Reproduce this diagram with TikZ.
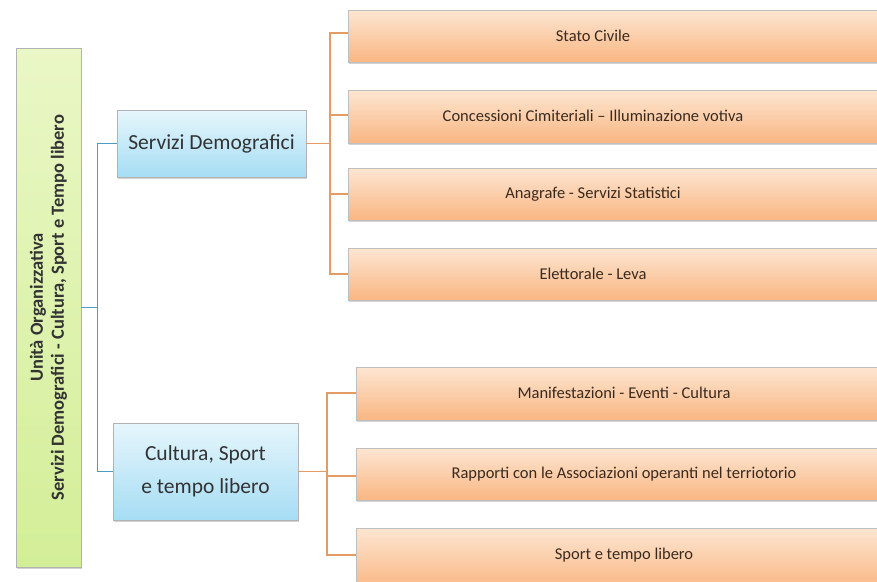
\documentclass[tikz,border=0pt]{standalone}
\usepackage{fontspec}
\setmainfont{Carlito}
\usetikzlibrary{shadows}
\definecolor{orTop}{HTML}{FDE6D2}
\definecolor{orBot}{HTML}{F9B682}
\definecolor{orLine}{HTML}{E39C66}
\definecolor{blTop}{HTML}{E6F6FC}
\definecolor{blBot}{HTML}{A6DDF4}
\definecolor{blLine}{HTML}{4C9CC4}
\definecolor{grTop}{HTML}{EAF7C6}
\definecolor{grBot}{HTML}{D3EE98}
\definecolor{txt}{HTML}{3A2A1E}
\tikzset{
  leafbox/.style={draw=black!25, line width=0.6pt, top color=orTop, bottom color=orBot,
    drop shadow={shadow xshift=1pt, shadow yshift=-1.5pt, opacity=0.35}},
  midbox/.style={draw=black!30, line width=0.6pt, top color=blTop, bottom color=blBot,
    drop shadow={shadow xshift=1pt, shadow yshift=-1.5pt, opacity=0.35}},
  rootbox/.style={draw=black!30, line width=0.8pt, top color=grTop, bottom color=grBot,
    drop shadow={shadow xshift=1pt, shadow yshift=-1.5pt, opacity=0.35}},
  leaftext/.style={font=\fontsize{16.5}{19}\selectfont, text=txt},
  midtext/.style={font=\fontsize{21.5}{25}\selectfont, text=black!80},
  orconn/.style={draw=orLine, line width=1.3pt},
  blconn/.style={draw=blLine, line width=1.3pt}
}
\begin{document}
\begin{tikzpicture}[x=1pt,y=-1pt]
\useasboundingbox (0,0) rectangle (877,581);
\fill[white] (0,0) rectangle (877,581);
\begin{scope}
\clip (0,0) rectangle (877,581);
% orange boxes group 1
\draw[leafbox] (348,10) rectangle (900,62);
\node[leaftext] (l1) at (593,36) {Stato Civile};
\draw[leafbox] (348,90) rectangle (900,143);
\node[leaftext] (l2) at (593,116) {Concessioni Cimiteriali –  Illuminazione votiva};
\draw[leafbox] (348,168) rectangle (900,220);
\node[leaftext] (l3) at (593,194) {Anagrafe - Servizi Statistici};
\draw[leafbox] (348,248) rectangle (900,300);
\node[leaftext] (l4) at (593,274) {Elettorale - Leva};
% orange boxes group 2
\draw[leafbox] (356,367) rectangle (900,420);
\node[leaftext] (m1) at (624,393) {Manifestazioni - Eventi - Cultura};
\draw[leafbox] (356,448) rectangle (900,500);
\node[leaftext] (m2) at (624,474) {Rapporti con le Associazioni operanti nel terriotorio};
\draw[leafbox] (356,528) rectangle (900,590);
\node[leaftext] (m3) at (624,555) {Sport e tempo libero};
\end{scope}
% coordinates for connectors
\coordinate (c1) at (348,33);
\coordinate (c2) at (348,115);
\coordinate (c3) at (348,194);
\coordinate (c4) at (348,274);
\coordinate (d1) at (356,393);
\coordinate (d2) at (356,476);
\coordinate (d3) at (356,555);
% blue boxes
\node[midbox, minimum width=189pt, minimum height=67pt, inner sep=0pt] (b1) at (211.5,143.5) {};
\node[midtext] (b1t) at (b1.center) {Servizi Demografici};
\node[midbox, minimum width=185pt, minimum height=97pt, inner sep=0pt] (b2) at (205.5,471.5) {};
\node[midtext] (b2t) at (b2.center) {\begin{tabular}{@{}c@{}}Cultura, Sport\\[8pt] e tempo libero\end{tabular}};
% green root
\node[rootbox, minimum width=65pt, minimum height=519pt, inner sep=0pt] (r) at (48.5,307.5) {};
\node[rotate=90, font=\bfseries\fontsize{18.5}{21}\selectfont, text=black!80, align=center] (rt) at (r.center)
  {Unità Organizzativa\\Servizi Demografici - Cultura, Sport e Tempo libero};
% connectors
\draw[blconn] (r.east) -- ++(16,0) coordinate (rj) |- (b1.west);
\draw[blconn] (rj) |- (b2.west);
\draw[orconn] (b1.east) -- (330,143.5) coordinate (oj);
\draw[orconn] (oj) |- (c1);
\draw[orconn] (oj) |- (c2);
\draw[orconn] (oj) |- (c3);
\draw[orconn] (oj) |- (c4);
\draw[orconn] (b2.east) -- (327,471.5) coordinate (pj);
\draw[orconn] (pj) |- (d1);
\draw[orconn] (pj) |- (d2);
\draw[orconn] (pj) |- (d3);
\end{tikzpicture}
\end{document}
